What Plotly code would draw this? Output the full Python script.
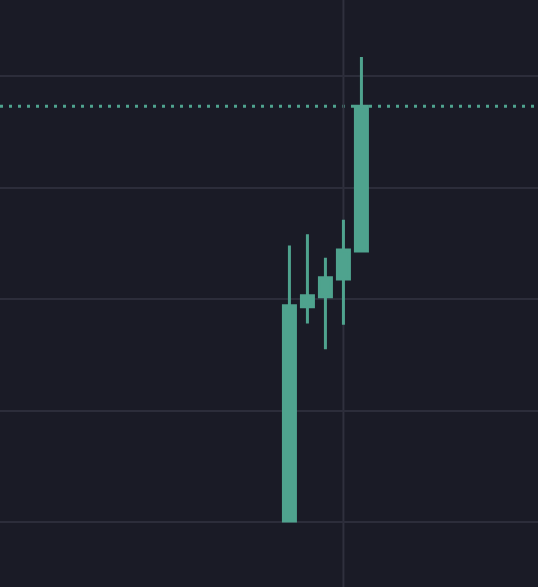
import plotly.graph_objects as go

# Data
x_idx = [0, 1, 2, 3, 4]
opens = [100.1, 119.3, 120.2, 121.8, 124.3]
highs = [124.8, 125.8, 123.7, 127.1, 141.7]
lows = [100.1, 117.8, 115.5, 117.7, 124.3]
closes = [119.4, 120.3, 121.9, 124.4, 137.3]
grid_vals = [100, 110, 120, 130, 140]
crosshair_index = 3

color = "#4fa38e"
bg = "#1a1b26"

fig = go.Figure()
fig.add_trace(go.Candlestick(
    x=x_idx, open=opens, high=highs, low=lows, close=closes,
    increasing=dict(line=dict(color=color, width=3), fillcolor=color),
    decreasing=dict(line=dict(color=color, width=3), fillcolor=color),
    whiskerwidth=0,
    showlegend=False,
))

# last price dotted line
fig.add_shape(type="line", xref="paper", x0=0, x1=1, yref="y",
              y0=closes[-1], y1=closes[-1],
              line=dict(color=color, width=3, dash="3px,6px"), layer="below")
# crosshair vertical line
fig.add_shape(type="line", xref="x", x0=crosshair_index, x1=crosshair_index,
              yref="paper", y0=0, y1=1,
              line=dict(color="#2f303d", width=2), layer="below")

fig.update_layout(
    width=538, height=587,
    margin=dict(l=0, r=0, t=0, b=0),
    paper_bgcolor=bg, plot_bgcolor=bg,
    boxgap=0.333, boxgroupgap=0,
    xaxis=dict(range=[-16.08, 13.81], showgrid=False, zeroline=False,
               showticklabels=False, rangeslider=dict(visible=False),
               fixedrange=True),
    yaxis=dict(range=[94.17, 146.82], tickvals=grid_vals, showgrid=True,
               gridcolor="#2c2d3a", gridwidth=2, zeroline=False,
               showticklabels=False, fixedrange=True),
)

fig.write_html("out.html", config={"displayModeBar": False},
               post_script="document.body.style.margin='0';document.body.style.background='" + bg + "';")
